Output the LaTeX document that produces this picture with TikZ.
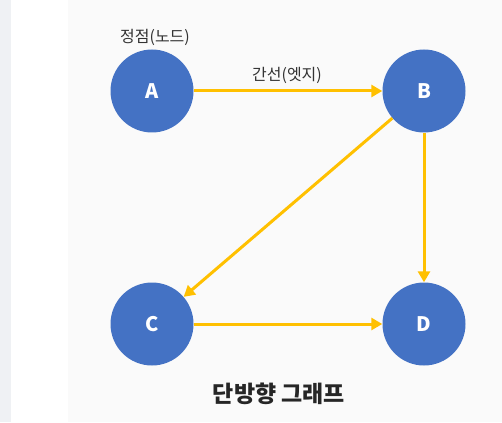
\documentclass[tikz,border=0pt]{standalone}
\usepackage{fontspec}
\setmainfont{Noto Sans CJK KR}
\newfontfamily\kr{Noto Sans CJK KR}
\usetikzlibrary{arrows.meta}
\definecolor{nodeblue}{HTML}{4472C4}
\definecolor{edgeyellow}{HTML}{FFC000}
\definecolor{stripgray}{HTML}{EFF1F4}
\definecolor{panelgray}{HTML}{FAFAFA}
\begin{document}
\begin{tikzpicture}[x=1pt,y=-1pt,
  vertex/.style={circle,fill=nodeblue,minimum size=83pt,inner sep=0pt,text=white,font=\kr\bfseries\fontsize{20}{24}\selectfont},
  edge/.style={draw=edgeyellow,line width=3pt,-{Triangle[length=11pt,width=12pt]}},
  lbl/.style={font=\kr\fontsize{16}{19}\selectfont,text=black!80}]
\useasboundingbox (0,0) rectangle (502,422);
\fill[white] (0,0) rectangle (502,422);
\fill[panelgray] (68,0) rectangle (502,422);
\fill[stripgray] (0,0) rectangle (11,422);
\node[vertex] (A) at (152,91) {A};
\node[vertex] (B) at (424,91) {B};
\node[vertex] (C) at (152,324) {C};
\node[vertex] (D) at (424,324) {D};
\node[lbl] (la) at (155,37) {정점(노드)};
\node[lbl] (le) at (287,75) {간선(엣지)};
\node[font=\kr\bfseries\fontsize{23}{27}\selectfont,text=black!85] (title) at (279,394) {단방향 그래프};
\draw[edge] (A) -- (B);
\draw[edge] (B) -- (C);
\draw[edge] (B) -- (D);
\draw[edge] (C) -- (D);
\end{tikzpicture}
\end{document}
